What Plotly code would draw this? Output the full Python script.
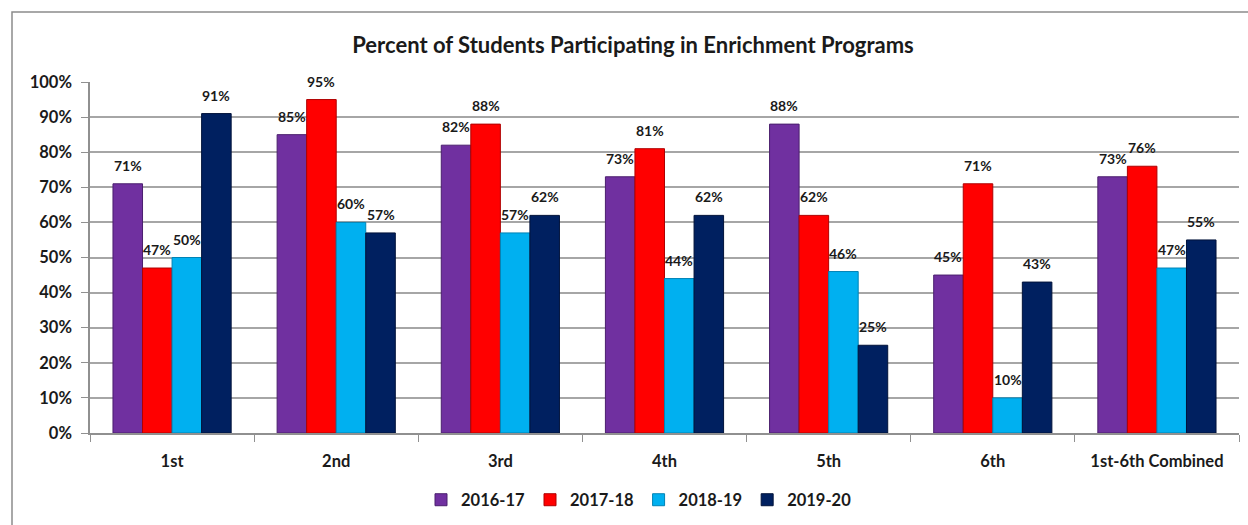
import plotly.graph_objects as go

categories = ["1st", "2nd", "3rd", "4th", "5th", "6th", "1st-6th Combined"]
series_names = ["2016-17", "2017-18", "2018-19", "2019-20"]
v_2016_17 = [71, 85, 82, 73, 88, 45, 73]
v_2017_18 = [47, 95, 88, 81, 62, 71, 76]
v_2018_19 = [50, 60, 57, 44, 46, 10, 47]
v_2019_20 = [91, 57, 62, 62, 25, 43, 55]
y_ticks = [0, 10, 20, 30, 40, 50, 60, 70, 80, 90, 100]
y_tick_labels = [f"{t}%" for t in y_ticks]

series_values = [v_2016_17, v_2017_18, v_2018_19, v_2019_20]
colors = ["#7030A0", "#FF0000", "#00B0F0", "#002060"]
edges = ["#4B1F6E", "#B00000", "#0083B5", "#00123A"]

FONT = "Lato, Calibri, Carlito, sans-serif"
bar_w = 0.18
start = -0.36

PW, PH = 1149, 351  # plot area in px

fig = go.Figure()
annotations = []
for k, (name, vals) in enumerate(zip(series_names, series_values)):
    off = start + k * bar_w
    fig.add_trace(go.Bar(
        name=name, x=categories, y=vals,
        width=bar_w, offset=off,
        marker=dict(color=colors[k], line=dict(color=edges[k], width=1)),
    ))
    for i, v in enumerate(vals):
        annotations.append(dict(
            x=i + off + bar_w / 2, y=v, xref="x", yref="y",
            text=f"{v}%", showarrow=False, yanchor="bottom", yshift=8,
            font=dict(family=FONT, size=14, color="#1a1a1a", weight="bold"),
        ))

fig.update_layout(
    width=1248, height=525, autosize=False,
    paper_bgcolor="white", plot_bgcolor="white",
    margin=dict(l=90, r=9, t=82, b=92, autoexpand=False),
    barmode="group",
    showlegend=True,
    title=dict(
        text="<b>Percent of Students Participating in Enrichment Programs</b>",
        x=633 / 1248, xanchor="center", y=1 - 45 / 525, yanchor="middle",
        font=dict(family=FONT, size=22, color="#1a1a1a"),
    ),
    legend=dict(
        orientation="h", x=(639 - 90) / PW, xanchor="center",
        y=(433 - 500) / PH, yanchor="middle",
        font=dict(family=FONT, size=16.5, color="#1a1a1a", weight="bold"),
        traceorder="normal", itemwidth=30,
    ),
    annotations=annotations,
    shapes=[dict(type="rect", xref="paper", yref="paper",
                 x0=(12 - 90) / PW, x1=(1260 - 90) / PW,
                 y0=(433 - 540) / PH, y1=(433 - 12) / PH,
                 line=dict(color="#8c8c8c", width=1.5), layer="below")],
)

fig.update_yaxes(
    range=[0, 100], tickvals=y_ticks, ticktext=y_tick_labels,
    showgrid=True, gridcolor="#A6A6A6", gridwidth=1.5,
    showline=True, linecolor="#909090", linewidth=1.5,
    ticks="outside", ticklen=7, tickcolor="#909090",
    ticklabelstandoff=6,
    tickfont=dict(family=FONT, size=16.5, color="#1a1a1a", weight="bold"),
    zeroline=False,
)
fig.update_xaxes(
    type="category", tickson="boundaries",
    showline=True, linecolor="#909090", linewidth=1.5,
    ticks="outside", ticklen=7, tickcolor="#909090",
    ticklabelstandoff=12,
    tickfont=dict(family=FONT, size=16.5, color="#1a1a1a", weight="bold"),
    tickangle=0,
    showgrid=False, range=[-0.5, 6.5],
)

fig.write_html("out.html")
